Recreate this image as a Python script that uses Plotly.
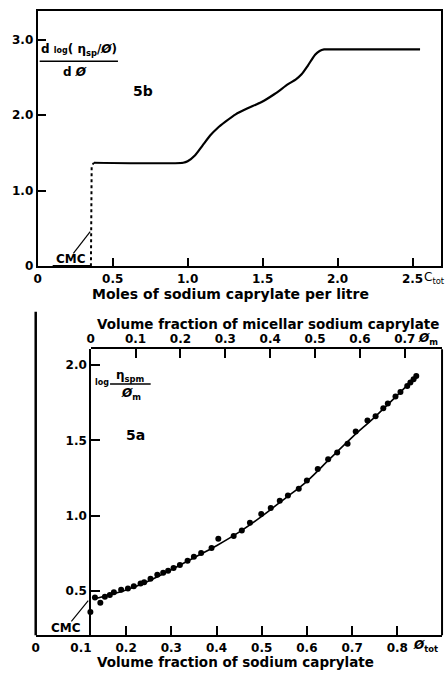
import plotly.graph_objects as go

W, H = 446, 676

# ---- Fig 5b data: derivative curve vs moles of sodium caprylate per litre ----
b_base_x = [0.10, 0.355]
b_base_y = [0.0, 0.0]
b_dot_x = [0.355, 0.355, 0.36, 0.375]
b_dot_y = [0.0, 1.22, 1.33, 1.37]
b_x = [0.375, 0.97, 1.0, 1.05, 1.10, 1.15, 1.20, 1.25, 1.32, 1.40, 1.49, 1.58,
       1.67, 1.72, 1.76, 1.80, 1.85, 1.88, 1.91, 2.0, 2.55]
b_y = [1.37, 1.37, 1.39, 1.47, 1.60, 1.73, 1.83, 1.91, 2.01, 2.09, 2.17, 2.28,
       2.41, 2.47, 2.54, 2.65, 2.80, 2.85, 2.87, 2.87, 2.87]
b_xticks = [0, 0.5, 1.0, 1.5, 2.0, 2.5]
b_xtext = ["0", "0.5", "1.0", "1.5", "2.0", "2.5"]
b_yticks = [0, 1, 2, 3]
b_ytext = ["0", "1.0", "2.0", "3.0"]

# ---- Fig 5a data: log(eta_spm/phi_m) vs volume fraction ----
a_phi = [0.121, 0.131, 0.143, 0.153, 0.164, 0.173, 0.189, 0.204, 0.217, 0.232,
         0.240, 0.254, 0.269, 0.282, 0.293, 0.305, 0.319, 0.336, 0.350, 0.366,
         0.389, 0.404, 0.438, 0.456, 0.474, 0.499, 0.520, 0.540, 0.558, 0.582,
         0.600, 0.624, 0.647, 0.667, 0.690, 0.708, 0.734, 0.752, 0.769, 0.779,
         0.796, 0.807, 0.822, 0.829, 0.836, 0.842]
a_val = [0.36, 0.455, 0.42, 0.46, 0.472, 0.49, 0.507, 0.515, 0.53, 0.548,
         0.557, 0.58, 0.607, 0.62, 0.634, 0.652, 0.672, 0.70, 0.727, 0.752,
         0.785, 0.846, 0.864, 0.901, 0.952, 1.011, 1.05, 1.099, 1.134, 1.178,
         1.234, 1.309, 1.375, 1.419, 1.478, 1.559, 1.632, 1.66, 1.713, 1.745,
         1.792, 1.822, 1.862, 1.884, 1.906, 1.928]
fit_phi = [0.135, 0.2, 0.25, 0.3, 0.35, 0.4, 0.45, 0.5, 0.55, 0.6, 0.65, 0.7,
           0.75, 0.8, 0.845]
fit_val = [0.45, 0.505, 0.565, 0.64, 0.72, 0.80, 0.89, 0.995, 1.11, 1.228,
           1.375, 1.52, 1.655, 1.80, 1.935]
a_xticks = [0, 0.1, 0.2, 0.3, 0.4, 0.5, 0.6, 0.7, 0.8]
a_xtext = ["0", "0.1", "0.2", "0.3", "0.4", "0.5", "0.6", "0.7", "0.8"]
a_xminor = [0.2, 0.3, 0.4, 0.5, 0.6, 0.7, 0.8]
m_xticks = [0, 0.1, 0.2, 0.3, 0.4, 0.5, 0.6, 0.7]
m_xtext = ["0", "0.1", "0.2", "0.3", "0.4", "0.5", "0.6", "0.7"]
a_yticks = [0.5, 1.0, 1.5, 2.0]
a_ytext = ["0.5", "1.0", "1.5", "2.0"]


def px(x):
    return x / W


def py(y):
    return 1 - y / H


FONT = "DejaVu Sans"
tickfont = dict(family=FONT, size=12, color="black", weight="bold")

fig = go.Figure()
line = dict(color="black", width=2.2)
fig.add_trace(go.Scatter(x=b_base_x, y=b_base_y, mode="lines", line=line,
                         xaxis="x", yaxis="y", cliponaxis=False))
fig.add_trace(go.Scatter(x=b_dot_x, y=b_dot_y, mode="lines",
                         line=dict(color="black", width=2, dash="dot"),
                         xaxis="x", yaxis="y"))
fig.add_trace(go.Scatter(x=b_x, y=b_y, mode="lines",
                         line=dict(color="black", width=2.2, shape="spline", smoothing=0.6),
                         xaxis="x", yaxis="y"))
fig.add_trace(go.Scatter(x=fit_phi, y=fit_val, mode="lines",
                         line=dict(color="black", width=1.6, shape="spline"),
                         xaxis="x2", yaxis="y2"))
fig.add_trace(go.Scatter(x=a_phi, y=a_val, mode="markers",
                         marker=dict(color="black", size=6),
                         xaxis="x2", yaxis="y2", cliponaxis=False))
fig.add_trace(go.Scatter(x=[], y=[], xaxis="x3", yaxis="y2"))

common = dict(showline=True, linecolor="black", linewidth=2, showgrid=False,
              zeroline=False, ticks="inside", tickcolor="black", tickwidth=1.5,
              tickfont=tickfont, fixedrange=True)

fig.update_layout(
    width=W, height=H, margin=dict(l=0, r=0, t=0, b=0),
    paper_bgcolor="white", plot_bgcolor="rgba(0,0,0,0)", showlegend=False,
    xaxis=dict(domain=[px(34), px(441)], range=[0, 2.69], anchor="y",
               mirror=True, ticklen=8, tickmode="array", tickvals=b_xticks,
               ticktext=b_xtext, **common),
    yaxis=dict(domain=[py(269), py(11)], range=[0, 3.38], anchor="x",
               mirror=True, ticklen=8, tickmode="array", tickvals=b_yticks,
               ticktext=b_ytext, **common),
    xaxis2=dict(domain=[px(32), px(442)], range=[0, 0.899], anchor="y2",
                tickmode="array", tickvals=a_xticks, ticktext=a_xtext,
                **{**common, "ticks": ""},
                minor=dict(tickmode="array", tickvals=a_xminor, ticks="inside",
                           ticklen=9, tickwidth=1.5, tickcolor="black")),
    yaxis2=dict(domain=[py(642), py(353)], range=[0.204, 2.105], anchor="free",
                position=px(87), ticklen=9, tickmode="array", tickvals=a_yticks,
                ticktext=a_ytext, **common),
    xaxis3=dict(domain=[px(87.5), px(442)], range=[0, 0.783], anchor="y2",
                side="top", ticklen=9, tickmode="array", tickvals=m_xticks,
                ticktext=m_xtext, **common),
)

shapes = [
    # outer left line of fig 5a
    dict(type="line", xref="paper", yref="paper", x0=px(32), x1=px(32),
         y0=py(642), y1=py(315), line=dict(color="black", width=2.5)),
    # right edge of fig 5a
    dict(type="line", xref="paper", yref="paper", x0=px(442), x1=px(442),
         y0=py(642), y1=py(353), line=dict(color="black", width=2)),
    # fraction bars
    dict(type="line", xref="paper", yref="paper", x0=px(36), x1=px(115),
         y0=py(62), y1=py(62), line=dict(color="black", width=1.5)),
    dict(type="line", xref="paper", yref="paper", x0=px(107), x1=px(148),
         y0=py(388), y1=py(388), line=dict(color="black", width=1.5)),
    # CMC pointers
    dict(type="line", xref="paper", yref="paper", x0=px(70), x1=px(87),
         y0=py(256), y1=py(234), line=dict(color="black", width=1.2)),
    dict(type="line", xref="paper", yref="paper", x0=px(68), x1=px(85),
         y0=py(628), y1=py(607), line=dict(color="black", width=1.2)),
]
fig.update_layout(shapes=shapes)


def ann(text, x, y, size=13, xanchor="center", bold=True):
    return dict(text=text, x=px(x), y=py(y), xref="paper", yref="paper",
                showarrow=False, xanchor=xanchor, yanchor="middle",
                font=dict(family=FONT, size=size, color="black",
                          weight="bold" if bold else "normal"))


phi = "<i>Ø</i>"
annotations = [
    ann("Moles of sodium caprylate per litre", 229, 297, size=14),
    ann("Volume fraction of micellar sodium caprylate", 266, 327, size=13.5),
    ann("Volume fraction of sodium caprylate", 234, 669, size=13.5),
    ann("C<sub>tot</sub>", 422, 281, size=12, xanchor="left", bold=False),
    ann(phi + "<sub>m</sub>", 416, 343, size=12, xanchor="left"),
    ann(phi + "<sub>tot</sub>", 411, 653, size=12, xanchor="left"),
    ann("5b", 140, 92, size=14),
    ann("5a", 133, 440, size=14),
    ann("d <span style='font-size:8px'>log</span>( η<sub>sp</sub>/" + phi + ")",
        76, 51, size=12),
    ann("d " + phi, 72, 73, size=12),
    ann("log", 99, 386, size=8),
    ann("η<sub>spm</sub>", 128, 380, size=12),
    ann(phi + "<sub>m</sub>", 128, 398, size=12),
    ann("CMC", 68, 262, size=12),
    ann("CMC", 63, 635, size=12),
]
fig.update_layout(annotations=annotations)

fig.write_html("out.html",
               config={"displayModeBar": False},
               post_script="document.body.style.margin='0px';"
                           "document.body.style.overflow='hidden';")
